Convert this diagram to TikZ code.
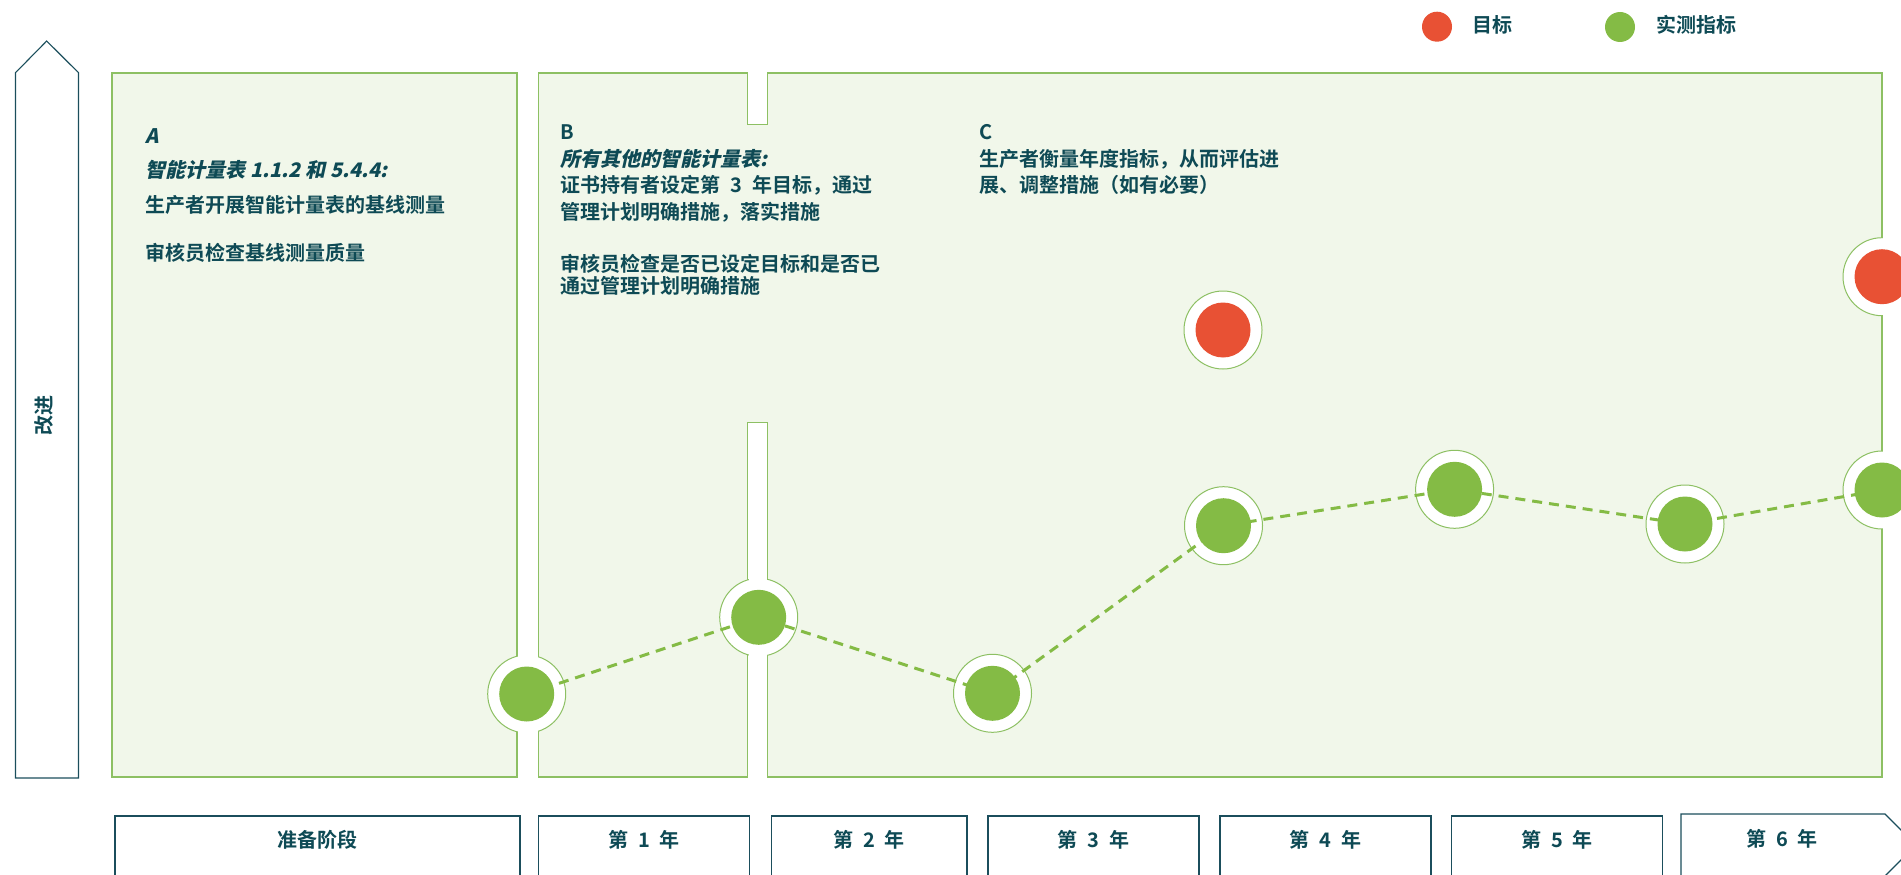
\documentclass[tikz,border=0pt]{standalone}
\usepackage{fontspec}
\newfontfamily\cjk{Noto Sans CJK SC}[BoldFont={Noto Sans CJK SC Bold}]
\newfontfamily\cjkit{Noto Sans CJK SC Bold}[FakeSlant=0.22]
\definecolor{panelfill}{HTML}{F1F7EA}
\definecolor{panelline}{HTML}{8DC063}
\definecolor{dotgreen}{HTML}{84BB45}
\definecolor{dotred}{HTML}{E85134}
\definecolor{txt}{HTML}{0E4A55}
\definecolor{boxline}{HTML}{1B4E5C}
\newcommand{\gp}{\hspace{0.5em}}
\tikzset{
  panel/.style={fill=panelfill, draw=panelline, line width=1.4pt},
  ring/.style={circle, fill=white, draw=panelline, line width=1pt, minimum size=78pt, inner sep=0pt},
  gdot/.style={circle, fill=dotgreen, minimum size=55pt, inner sep=0pt},
  rdot/.style={circle, fill=dotred, minimum size=55pt, inner sep=0pt},
  legdot/.style={circle, inner sep=0pt, minimum size=30pt},
  cover/.style={fill=white, draw=none},
  trend/.style={draw=dotgreen, line width=3pt, dash pattern=on 10pt off 7pt},
  yearbox/.style={draw=boxline, line width=1.2pt, fill=white},
  lbl/.style={text=txt, font=\cjk\bfseries\fontsize{20pt}{24pt}\selectfont, inner sep=0pt},
  body/.style={lbl, anchor=west},
}
\begin{document}
\begin{tikzpicture}[x=1pt,y=-1pt]
\useasboundingbox (0,0) rectangle (1901,875);
% panels
\draw[panel] (112,73) rectangle (517,777);
\draw[panel] (538.6,73) -- (747.7,73) -- (747.7,124.3) -- (767.7,124.3) -- (767.7,73)
  -- (1882,73) -- (1882,777) -- (767.7,777) -- (767.7,422.7) -- (747.7,422.7)
  -- (747.7,777) -- (538.6,777) -- cycle;
% rings
\node[ring] (r1) at (526.7,694) {};
\node[ring] (r2) at (758.7,617.3) {};
\node[ring] (r3) at (992.5,693.3) {};
\node[ring] (r4) at (1223.5,525.7) {};
\node[ring] (r5) at (1454.6,489.3) {};
\node[ring] (r6) at (1685,524) {};
\node[ring] (r7) at (1882,490) {};
\node[ring] (t1) at (1223,330) {};
\node[ring] (t2) at (1882,276.7) {};
% white covers for channels and outside edge
\fill[cover] (517.8,640) rectangle (537.8,750);
\fill[cover] (748.5,560) rectangle (766.9,675);
\fill[cover] (1882.8,225) rectangle (1905,545);
% trend line
\draw[trend] (r1.center) -- (r2.center) -- (r3.center) -- (r4.center) -- (r5.center) -- (r6.center) -- (r7.center);
% dots
\node[gdot] (m1) at (r1) {};
\node[gdot] (m2) at (r2) {};
\node[gdot] (m3) at (r3) {};
\node[gdot] (m4) at (r4) {};
\node[gdot] (m5) at (r5) {};
\node[gdot] (m6) at (r6) {};
\node[gdot] (m7) at (r7) {};
\node[rdot] (g1) at (t1) {};
\node[rdot] (g2) at (t2) {};
% legend
\node[legdot, fill=dotred] (lr) at (1437,26.7) {};
\node[body] (lrt) at (1472,25) {目标};
\node[legdot, fill=dotgreen] (lg) at (1620,27) {};
\node[body] (lgt) at (1656,25) {实测指标};
% left arrow
\draw[draw=boxline, line width=1.1pt] (15.5,778) -- (15.5,72.7) -- (46.7,41) -- (78.5,72.7) -- (78.5,778) -- cycle;
\node[lbl, rotate=90] (imp) at (44,415) {改进};
% panel A text
\node[body] (a0) at (145.5,136) {\cjkit A};
\node[body] (a1) at (145.5,170) {\cjkit 智能计量表 1.1.2 和 5.4.4:};
\node[body] (a2) at (145.5,205) {生产者开展智能计量表的基线测量};
\node[body] (a3) at (145.5,253) {审核员检查基线测量质量};
% panel B text
\node[body] (b0) at (560,131.7) {B};
\node[body] (b1) at (560,159) {\cjkit 所有其他的智能计量表:};
\node[body] (b2) at (560,185) {证书持有者设定第\gp 3\gp 年目标，通过};
\node[body] (b3) at (560,212) {管理计划明确措施，落实措施};
\node[body] (b4) at (560,264) {审核员检查是否已设定目标和是否已};
\node[body] (b5) at (560,286) {通过管理计划明确措施};
% panel C text
\node[body] (c0) at (979,132) {C};
\node[body] (c1) at (979,159) {生产者衡量年度指标，从而评估进};
\node[body] (c2) at (979,185) {展、调整措施（如有必要）};
% year boxes
\draw[yearbox] (115,816) rectangle (520,885);
\draw[yearbox] (538.6,816) rectangle (749.7,885);
\draw[yearbox] (771.5,816) rectangle (967,885);
\draw[yearbox] (988,816) rectangle (1199,885);
\draw[yearbox] (1220,816) rectangle (1431,885);
\draw[yearbox] (1451.5,816) rectangle (1662.6,885);
\draw[yearbox] (1681,814) -- (1885,814) -- (1916,845) -- (1881,880) -- (1681,880) -- cycle;
\node[lbl] (y0) at (317.5,840) {准备阶段};
\node[lbl] (y1) at (644,840) {第\gp 1\gp 年};
\node[lbl] (y2) at (869,840) {第\gp 2\gp 年};
\node[lbl] (y3) at (1093.5,840) {第\gp 3\gp 年};
\node[lbl] (y4) at (1325.5,840) {第\gp 4\gp 年};
\node[lbl] (y5) at (1557,840) {第\gp 5\gp 年};
\node[lbl] (y6) at (1782,839) {第\gp 6\gp 年};
\end{tikzpicture}
\end{document}
